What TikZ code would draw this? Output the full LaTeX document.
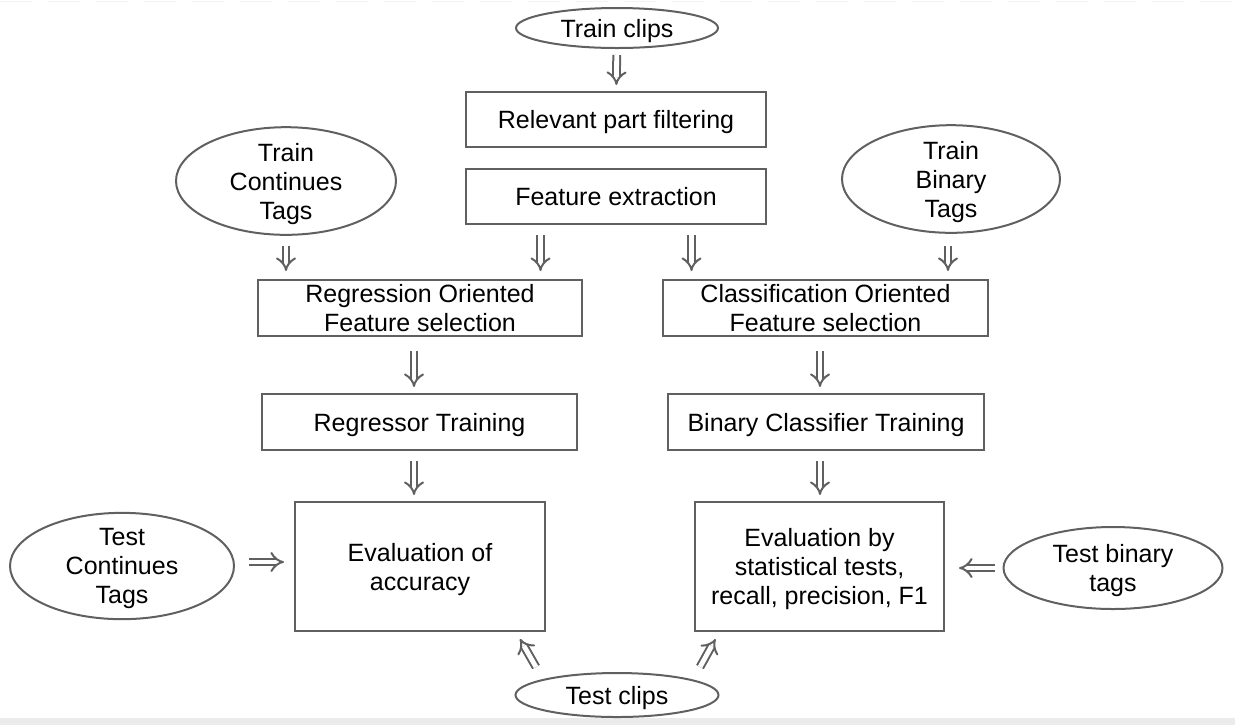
\documentclass[tikz,border=0pt]{standalone}
\usepackage{fontspec}
\setmainfont{Liberation Sans}
\usepackage{tikz}
\usetikzlibrary{arrows.meta}
\usetikzlibrary{shapes.geometric}
\usetikzlibrary{calc}
\definecolor{edgegray}{HTML}{606060}
\definecolor{stripgray}{HTML}{EBEBEB}

\begin{document}
\begin{tikzpicture}[x=0.5pt,y=-0.5pt]
\tikzset{>={Implies}}
\tikzstyle{blob} =[ellipse, draw=edgegray, line width=1pt, inner sep=0pt, align=center, text depth=0pt, font=\fontsize{12.5}{14.5}\selectfont]
\tikzstyle{stage} =[rectangle, draw=edgegray, line width=1pt, inner sep=0pt, align=center, text depth=0pt, font=\fontsize{12.5}{14.5}\selectfont]
\tikzstyle{flow} =[->, draw=edgegray, line width=1pt, double, double distance=2.4pt, shorten <=3pt, shorten >=3pt]

\useasboundingbox (0,0) rectangle (1235,725);
\fill[stripgray] (0,718) rectangle (1235,725);
\draw[stripgray!60, dashed, dash pattern=on 16pt off 8pt] (0,1) -- (1235,1);

% inputs
\node[blob, minimum width=101pt, minimum height=20pt](trainclips) at (617,28){Train clips};
\node[blob, minimum width=110pt, minimum height=43.5pt](traincont) at (286,181){Train\\Continues\\Tags};
\node[blob, minimum width=109pt, minimum height=43pt](trainbin) at (951,179){Train\\Binary\\Tags};
\node[blob, minimum width=112pt, minimum height=46pt](testcont) at (122,566){Test\\Continues\\Tags};
\node[blob, minimum width=109.5pt, minimum height=41pt](testbin) at (1113,568){Test binary\\tags};
\node[blob, minimum width=101.5pt, minimum height=22pt](testclips) at (617,695){Test clips};

% processing steps
\node[stage, minimum width=150pt, minimum height=27.5pt](filter) at (616,119.5){Relevant part filtering};
\node[stage, minimum width=150pt, minimum height=27.5pt](features) at (616,196.5){Feature extraction};
\node[stage, minimum width=162pt, minimum height=28pt](regsel) at (420,308){Regression Oriented\\Feature selection};
\node[stage, minimum width=162.5pt, minimum height=28pt](clssel) at (825.5,308){Classification Oriented\\Feature selection};
\node[stage, minimum width=157.5pt, minimum height=28pt](regtrain) at (419.5,422){Regressor Training};
\node[stage, minimum width=158pt, minimum height=28pt](clstrain) at (826,422){Binary Classifier Training};
\node[stage, minimum width=125pt, minimum height=64.5pt](evalacc) at (420,566.5){Evaluation of\\accuracy};
\node[stage, minimum width=124.5pt, minimum height=64.5pt](evalstat) at (819.5,566.5){Evaluation by\\statistical tests,\\recall, precision, F1};

\coordinate (regin) at ($(features.south west)!0.25!(features.south east)$);
\coordinate (clsin) at ($(features.south west)!0.75!(features.south east)$);

\draw [flow] (trainclips) -- (filter);
\draw [flow, shorten <=5pt, shorten >=4pt] (traincont.south) -- (traincont.south |- regsel.north);
\draw [flow, shorten <=5pt, shorten >=4pt] (regin) -- (regin |- regsel.north);
\draw [flow, shorten <=5pt, shorten >=4pt] (clsin) -- (clsin |- clssel.north);
\draw [flow, shorten <=6pt, shorten >=4pt] (trainbin.south -| 948,0) -- (948,0 |- clssel.north);
\draw [flow, shorten <=7pt, shorten >=3pt] (regsel.south -| 414,0) -- (414,0 |- regtrain.north);
\draw [flow, shorten <=7pt, shorten >=3pt] (clssel.south -| 820,0) -- (820,0 |- clstrain.north);
\draw [flow, shorten <=5pt, shorten >=3pt] (regtrain.south -| 414,0) -- (414,0 |- evalacc.north);
\draw [flow, shorten <=5pt, shorten >=3pt] (clstrain.south -| 820,0) -- (820,0 |- evalstat.north);
\draw [flow, shorten <=7pt, shorten >=5pt] (testcont.east |- 0,562) -- (evalacc.west |- 0,562);
\draw [flow, shorten <=4pt, shorten >=7pt] (testbin.west) -- (evalstat.east |- testbin.west);
\draw [flow, shorten <=0pt, shorten >=0pt] ([shift={(-81,-5)}]testclips.north) -- ([shift={(100,7)}]evalacc.south);
\draw [flow, shorten <=0pt, shorten >=0pt] ([shift={(83,-5)}]testclips.north) -- ([shift={(-104,7)}]evalstat.south);
\end{tikzpicture}
\end{document}
